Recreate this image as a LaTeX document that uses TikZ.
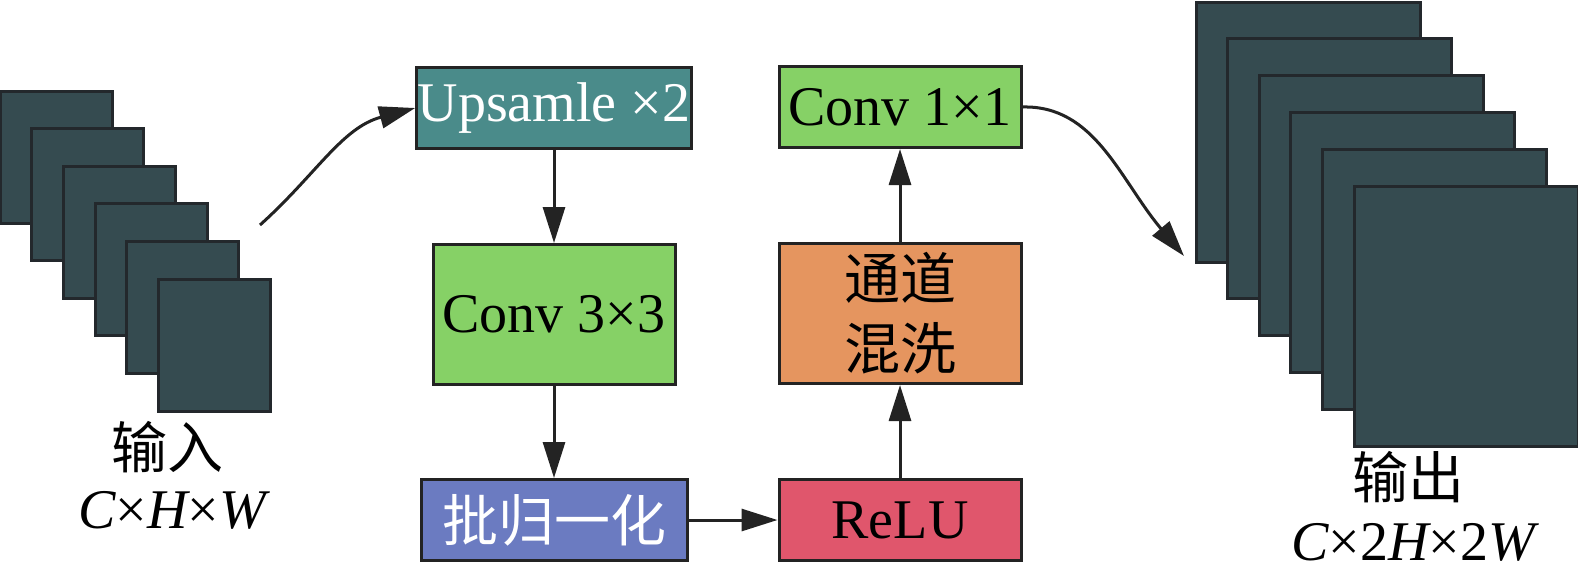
\documentclass[tikz,border=0pt]{standalone}
\usepackage{fontspec}
\setmainfont{Liberation Serif}
\newfontfamily\cjk{Noto Sans CJK SC}
\usetikzlibrary{arrows.meta,positioning}
\definecolor{mapfill}{HTML}{354B50}
\definecolor{mapedge}{HTML}{23282C}
\definecolor{upteal}{HTML}{4A8B8A}
\definecolor{convgreen}{HTML}{86D166}
\definecolor{normblue}{HTML}{6B7BC1}
\definecolor{shuforange}{HTML}{E5955F}
\definecolor{relured}{HTML}{E0566C}
\definecolor{edgegray}{HTML}{232323}

\begin{document}
\begin{tikzpicture}[
  x=0.5pt, y=-0.5pt,
  font=\fontsize{28}{35}\selectfont,
  block/.style={draw=edgegray, rectangle, line width=1.5pt,
                minimum width=121pt, minimum height=40.5pt,
                inner xsep=0.5pt, inner ysep=2pt, align=center},
  fmap/.style={draw=mapedge, fill=mapfill, rectangle, line width=1.5pt,
               inner sep=0pt},
  arr/.style={-{Triangle[length=18pt,width=11pt]}, line width=1.5pt,
              draw=edgegray},
]
  \useasboundingbox (0,0) rectangle (1578,585);

  %% Input feature maps
  \foreach \i in {0,...,5}
    \node[fmap, minimum width=56pt, minimum height=66pt]
      (in\i) at ({56+31.7*\i},{157+37.6*\i}) {};
  \node (inlab) at (167,447) {\cjk 输入};
  \node (insize) at (172,510) {{\itshape C}×{\itshape H}×{\itshape W}};

  %% Left column
  \node[block, fill=upteal, text=white, minimum width=136pt] (upsample)
    at (554,108) {Upsamle ×2};
  \node[block, fill=convgreen, minimum height=70pt, below=46.5pt of upsample]
    (conv3) {Conv 3×3};
  \node[block, fill=normblue, text=white, minimum width=133pt,
        below=46pt of conv3] (bnorm) {\cjk 批归一化};

  %% Right column
  \node[block, fill=relured, right=44.5pt of bnorm] (relu) {ReLU};
  \node[block, fill=shuforange, minimum height=70pt, above=46.5pt of relu]
    (shuffle) {\cjk 通道\\\cjk 混洗};
  \node[block, fill=convgreen, above=46.5pt of shuffle] (conv1) {Conv 1×1};

  %% Output feature maps
  \foreach \i in {0,...,5}
    \node[fmap, minimum width=112pt, minimum height=130pt]
      (out\i) at ({1308+31.6*\i},{132+36.8*\i}) {};
  \node (outlab) at (1408,477) {\cjk 输出};
  \node (outsize) at (1413,542)
    {{\itshape C}×2{\itshape H}×2{\itshape W}};

  %% Connectors
  \coordinate (instart) at (260,225);
  \coordinate (outend) at (1184,256);
  \draw[arr] (instart) to[out=42,in=195] (upsample.west);
  \draw[arr] (upsample) -- (conv3);
  \draw[arr] (conv3) -- (bnorm);
  \draw[arr] (bnorm) -- (relu);
  \draw[arr] (relu) -- (shuffle);
  \draw[arr] (shuffle) -- (conv1);
  \draw[arr] (conv1.east) .. controls (1095,105) and (1120,180) .. (outend);
\end{tikzpicture}
\end{document}
